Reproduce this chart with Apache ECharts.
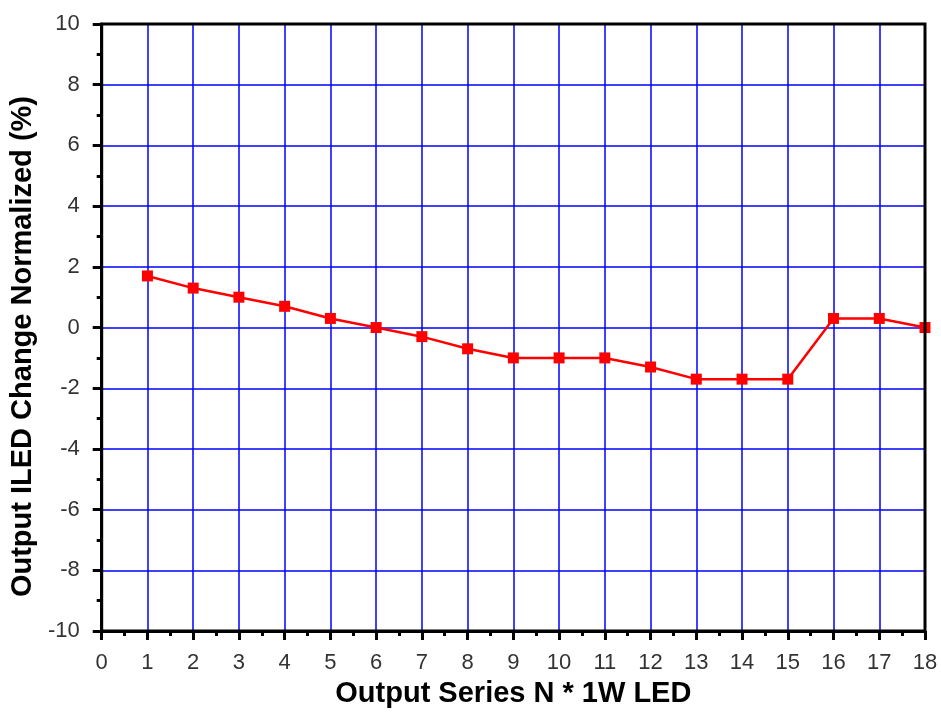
<!DOCTYPE html>
<html><head><meta charset="utf-8">
<script src="https://cdn.jsdelivr.net/npm/echarts@6/dist/echarts.min.js"></script>
<style>html,body{margin:0;padding:0;background:#fff}#c{width:941px;height:713px}</style>
</head><body><div id="c"></div>
<script>
const xValues = [1,2,3,4,5,6,7,8,9,10,11,12,13,14,15,16,17,18];
const yValues = [1.7,1.3,1.0,0.7,0.3,0,-0.3,-0.7,-1.0,-1.0,-1.0,-1.3,-1.7,-1.7,-1.7,0.3,0.3,0];
const xTitle = 'Output Series N * 1W LED';
const yTitle = 'Output ILED Change Normalized (%)';

const chart = echarts.init(document.getElementById('c'));
const labelFont = {fontFamily:'Liberation Sans Narrow, Liberation Sans', fontSize:22, color:'#333'};
const titleFont = {fontFamily:'Liberation Sans',fontWeight:'bold',fontSize:29,color:'#000'};
chart.setOption({
  animation:false,
  grid:{left:101,right:16,top:24,bottom:81,show:true,borderColor:'#000',borderWidth:3,z:3},
  xAxis:{type:'value',min:0,max:18,interval:1,
    name:xTitle,nameLocation:'middle',nameGap:47,nameTextStyle:titleFont,
    axisLine:{onZero:false,lineStyle:{color:'#000',width:3}},
    axisTick:{length:9,lineStyle:{color:'#000',width:3}},
    minorTick:{show:true,splitNumber:2,length:5,lineStyle:{color:'#000',width:3}},
    axisLabel:Object.assign({margin:21},labelFont),
    splitLine:{show:true,lineStyle:{color:'#0000ff',width:1.5}}
  },
  yAxis:{type:'value',min:-10,max:10,interval:2,
    name:yTitle,nameLocation:'middle',nameGap:62,
    nameTextStyle:Object.assign({padding:[0,38,0,0]},titleFont),
    axisLine:{onZero:false,lineStyle:{color:'#000',width:3}},
    axisTick:{length:9,lineStyle:{color:'#000',width:3}},
    minorTick:{show:true,splitNumber:2,length:5,lineStyle:{color:'#000',width:3}},
    axisLabel:Object.assign({margin:22},labelFont),
    splitLine:{show:true,lineStyle:{color:'#0000ff',width:1.5}}
  },
  series:[{type:'line',data:xValues.map((x,i)=>[x,yValues[i]]),
    symbol:'rect',symbolSize:11,showAllSymbol:true,
    lineStyle:{color:'#ff0000',width:2.5},itemStyle:{color:'#ff0000'},z:2}]
});
</script></body></html>
